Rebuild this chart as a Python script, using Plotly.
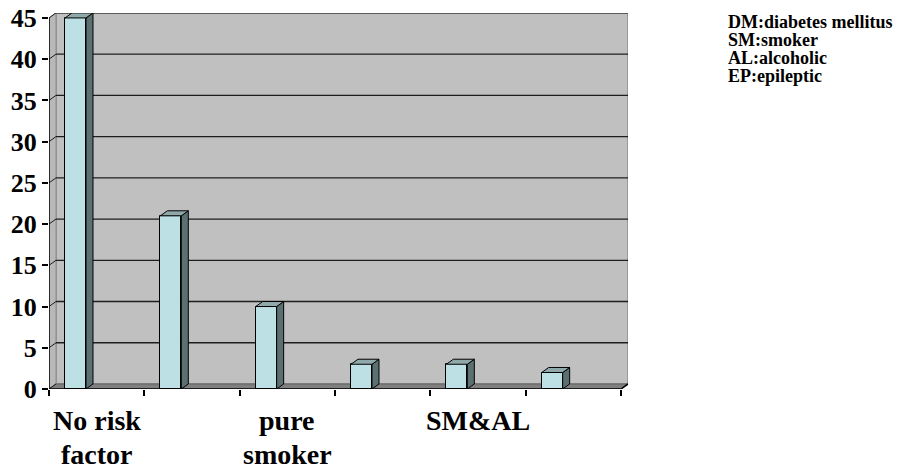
import plotly.graph_objects as go

# Patient counts per risk-factor group (six groups, every other one labelled)
group_counts = [45, 21, 10, 3, 3, 2]
label_positions = [0.5, 2.5, 4.5]
label_lines = [["No risk", "factor"], ["pure", "smoker"], ["SM&AL"]]
y_ticks = [0, 5, 10, 15, 20, 25, 30, 35, 40, 45]
abbreviations = ["DM:diabetes mellitus", "SM:smoker", "AL:alcoholic", "EP:epileptic"]

# pseudo-3D geometry in data units
DX = 0.0734          # depth shift along x
DY = 0.61            # depth shift along y
Y_TOP = 45.6
X_END = len(group_counts)
BAR_OFF = 0.168
BAR_W = 0.22

FRONT = "#BCE0E4"
SIDE = "#5B7072"
TOP = "#8FA9AB"
WALL = "#C0C0C0"
FLOOR = "#808080"
SERIF = "Liberation Serif"

fig = go.Figure()

# bars: front face as a bar trace, side and top faces as filled polygons
for i, v in enumerate(group_counts):
    x0 = i + BAR_OFF
    x1 = x0 + BAR_W
    fig.add_trace(go.Scatter(
        x=[x1, x1 + DX, x1 + DX, x1, x1], y=[0, DY, v + DY, v, 0],
        fill="toself", fillcolor=SIDE, mode="lines",
        line=dict(color="black", width=1), hoverinfo="skip", showlegend=False))
    fig.add_trace(go.Scatter(
        x=[x0, x1, x1 + DX, x0 + DX, x0], y=[v, v, v + DY, v + DY, v],
        fill="toself", fillcolor=TOP, mode="lines",
        line=dict(color="black", width=1), hoverinfo="skip", showlegend=False))

fig.add_trace(go.Bar(
    x=[i + BAR_OFF + BAR_W / 2 for i in range(len(group_counts))],
    y=group_counts, width=BAR_W,
    marker=dict(color=FRONT, line=dict(color="black", width=1)),
    showlegend=False))

shapes = []
# back wall
shapes.append(dict(type="rect", x0=DX, x1=X_END + DX, y0=DY, y1=Y_TOP,
                   fillcolor=WALL, line=dict(color="#8C8C8C", width=1.5), layer="below"))
# left wall
shapes.append(dict(type="path",
                   path=f"M 0,0 L 0,45 L {DX},{45 + DY} L {DX},{DY} Z",
                   fillcolor="#B8B8B8", line=dict(color="#8C8C8C", width=1), layer="below"))
# floor
shapes.append(dict(type="path",
                   path=f"M 0,0 L {X_END},0 L {X_END + DX},{DY} L {DX},{DY} Z",
                   fillcolor=FLOOR, line=dict(color="#606060", width=1), layer="below"))
# gridlines on the back wall plus their links to the front axis
for v in y_ticks[1:]:
    shapes.append(dict(type="line", x0=DX, x1=X_END + DX, y0=v + DY, y1=v + DY,
                       line=dict(color="#1E1E1E", width=1.3), layer="below"))
for v in y_ticks:
    shapes.append(dict(type="line", x0=0, x1=DX, y0=v, y1=v + DY,
                       line=dict(color="#1E1E1E", width=1), layer="below"))
# front axis lines
shapes.append(dict(type="line", x0=0, x1=0, y0=0, y1=45,
                   line=dict(color="black", width=1.5)))
shapes.append(dict(type="line", x0=0, x1=X_END, y0=0, y1=0,
                   line=dict(color="black", width=1.5)))
shapes.append(dict(type="line", x0=X_END, x1=X_END + DX, y0=0, y1=DY,
                   line=dict(color="black", width=1.5)))

annotations = []
# category labels under the axis, one text per line
for pos, lines in zip(label_positions, label_lines):
    for j, line in enumerate(lines):
        annotations.append(dict(
            text=line, x=pos, xref="x", yref="paper",
            y=-(421 - 389 + 33 * j) / 376, yanchor="middle", xanchor="center",
            showarrow=False,
            font=dict(family=SERIF, size=28, color="black", weight="bold")))
# abbreviation key
for k, t in enumerate(abbreviations):
    annotations.append(dict(
        text=t, xref="paper", yref="paper",
        x=(726 - 49) / 579, y=(389 - (22 + 18 * k)) / 376,
        xanchor="left", yanchor="middle", showarrow=False,
        font=dict(family=SERIF, size=18, color="black", weight="bold")))

fig.update_layout(
    width=912, height=469,
    margin=dict(l=49, r=284, t=13, b=80, autoexpand=False),
    paper_bgcolor="white", plot_bgcolor="white",
    font=dict(family=SERIF, color="black"),
    shapes=shapes, annotations=annotations,
    bargap=0,
    xaxis=dict(range=[0, X_END + DX], tickvals=list(range(X_END + 1)),
               showticklabels=False, ticks="outside", ticklen=6,
               tickcolor="black", tickwidth=1.5, automargin=False,
               showgrid=False, zeroline=False, showline=False),
    yaxis=dict(range=[0, Y_TOP], tickvals=y_ticks,
               ticks="outside", ticklen=6, tickcolor="black", tickwidth=1.5,
               tickfont=dict(family=SERIF, size=26, color="black", weight="bold"),
               automargin=False,
               showgrid=False, zeroline=False, showline=False),
)

fig.write_html("out.html")
